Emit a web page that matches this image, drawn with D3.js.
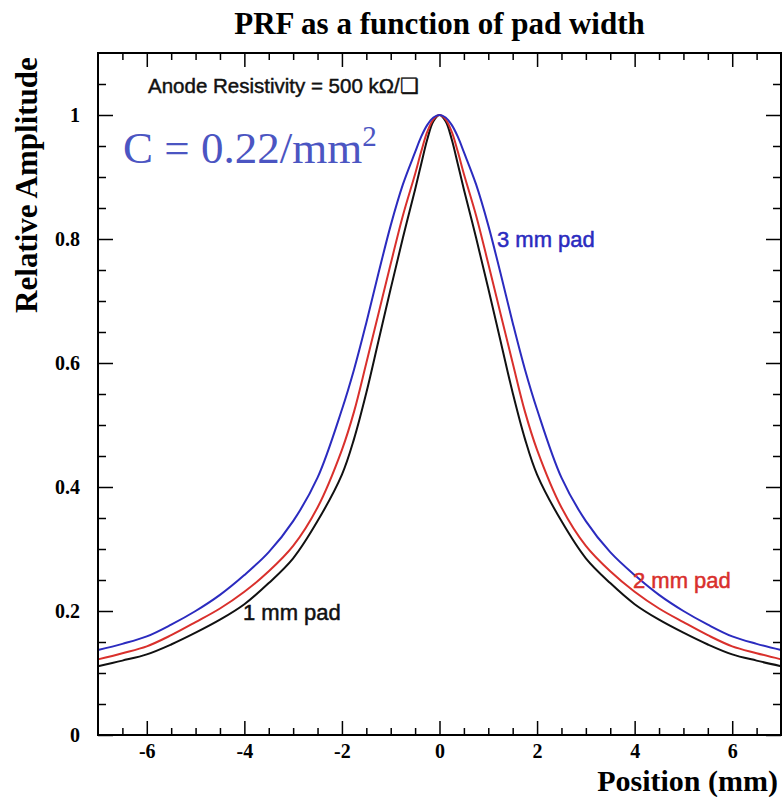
<!DOCTYPE html>
<html>
<head>
<meta charset="utf-8">
<script src="https://cdn.jsdelivr.net/npm/d3@7"></script>
<style>
  html, body { margin: 0; padding: 0; background: #fff; }
  svg { display: block; }
</style>
</head>
<body>
<svg id="chart" width="782" height="797"></svg>
<script>
// ---------- data ----------
const positions = [-7,-6.5,-6,-5.5,-5,-4.5,-4,-3.5,-3,-2.5,-2,-1.75,-1.5,-1.25,-1,-0.75,-0.5,-0.375,-0.25,-0.125,0,
                   0.125,0.25,0.375,0.5,0.75,1,1.25,1.5,1.75,2,2.5,3,3.5,4,4.5,5,5.5,6,6.5,7];
const pad3mm = [0.137,0.147,0.159,0.178,0.200,0.226,0.258,0.295,0.345,0.415,0.525,0.590,0.665,0.745,0.822,0.888,0.940,0.965,0.984,0.996,1.000,
                0.996,0.984,0.965,0.940,0.888,0.822,0.745,0.665,0.590,0.525,0.415,0.345,0.295,0.258,0.226,0.200,0.178,0.159,0.147,0.137];
const pad2mm = [0.122,0.132,0.143,0.161,0.182,0.204,0.231,0.264,0.305,0.367,0.460,0.522,0.600,0.680,0.760,0.838,0.905,0.941,0.973,0.993,1.000,
                0.993,0.973,0.941,0.905,0.838,0.760,0.680,0.600,0.522,0.460,0.367,0.305,0.264,0.231,0.204,0.182,0.161,0.143,0.132,0.122];
const pad1mm = [0.111,0.120,0.130,0.146,0.165,0.186,0.211,0.245,0.285,0.345,0.420,0.478,0.552,0.636,0.720,0.802,0.880,0.921,0.961,0.990,1.000,
                0.990,0.961,0.921,0.880,0.802,0.720,0.636,0.552,0.478,0.420,0.345,0.285,0.245,0.211,0.186,0.165,0.146,0.130,0.120,0.111];

const seriesNames = ["1 mm pad", "2 mm pad", "3 mm pad"];
const seriesColors = ["#111111", "#d9302c", "#2b2bbf"];

const xMajorTicks = [-6,-4,-2,0,2,4,6];
const xTickLabels = ["-6","-4","-2","0","2","4","6"];
const xMinorTicks = [-6.5,-5.5,-5,-4.5,-3.5,-3,-2.5,-1.5,-1,-0.5,0.5,1,1.5,2.5,3,3.5,4.5,5,5.5,6.5];
const yMajorTicks = [0,0.2,0.4,0.6,0.8,1];
const yTickLabels = ["0","0.2","0.4","0.6","0.8","1"];
const yMinorTicks = [0.05,0.1,0.15,0.25,0.3,0.35,0.45,0.5,0.55,0.65,0.7,0.75,0.85,0.9,0.95,1.05];

// ---------- layout ----------
const L = 98, R = 781, T = 53, B = 735;
const svg = d3.select("#chart");
const x = d3.scaleLinear().domain([-7, 7]).range([L, R]);
const y = d3.scaleLinear().domain([0, 1.1]).range([B, T]);

const serif = "'Liberation Serif','Times New Roman',Times,serif";
const sans = "'Liberation Sans',Arial,Helvetica,sans-serif";

function styleAxis(g) {
  g.select(".domain").remove();
  g.selectAll(".tick line").attr("stroke", "#000").attr("stroke-width", 1.5);
  g.selectAll(".tick text").attr("font-family", serif).attr("font-weight", "bold")
   .attr("font-size", 20).attr("fill", "#000");
}
const fmtX = d => xTickLabels[xMajorTicks.indexOf(d)];
const fmtY = d => yTickLabels[yMajorTicks.indexOf(d)];

svg.append("g").attr("transform", `translate(0,${B})`)
  .call(d3.axisBottom(x).tickValues(xMajorTicks).tickSize(-14).tickPadding(9).tickFormat(fmtX))
  .call(styleAxis);
svg.append("g").attr("transform", `translate(0,${B})`)
  .call(d3.axisBottom(x).tickValues(xMinorTicks).tickSize(-7).tickFormat(""))
  .call(styleAxis);
svg.append("g").attr("transform", `translate(0,${T})`)
  .call(d3.axisTop(x).tickValues(xMajorTicks).tickSize(-14).tickFormat(""))
  .call(styleAxis);
svg.append("g").attr("transform", `translate(0,${T})`)
  .call(d3.axisTop(x).tickValues(xMinorTicks).tickSize(-7).tickFormat(""))
  .call(styleAxis);

svg.append("g").attr("transform", `translate(${L},0)`)
  .call(d3.axisLeft(y).tickValues(yMajorTicks).tickSize(-15).tickPadding(18).tickFormat(fmtY))
  .call(styleAxis);
svg.append("g").attr("transform", `translate(${L},0)`)
  .call(d3.axisLeft(y).tickValues(yMinorTicks).tickSize(-8).tickFormat(""))
  .call(styleAxis);
svg.append("g").attr("transform", `translate(${R},0)`)
  .call(d3.axisRight(y).tickValues(yMajorTicks).tickSize(-15).tickFormat(""))
  .call(styleAxis);
svg.append("g").attr("transform", `translate(${R},0)`)
  .call(d3.axisRight(y).tickValues(yMinorTicks).tickSize(-8).tickFormat(""))
  .call(styleAxis);

// curves
const line = d3.line().x(d => x(d[0])).y(d => y(d[1])).curve(d3.curveCatmullRom.alpha(0.5));
[pad1mm, pad2mm, pad3mm].forEach((vals, i) => {
  svg.append("path")
    .datum(positions.map((p, j) => [p, vals[j]]))
    .attr("fill", "none")
    .attr("stroke", seriesColors[i])
    .attr("stroke-width", 2)
    .attr("d", line);
});

// frame
svg.append("rect").attr("x", L).attr("y", T).attr("width", R - L).attr("height", B - T)
  .attr("fill", "none").attr("stroke", "#000").attr("stroke-width", 2);

// titles
svg.append("text").attr("x", (L + R) / 2).attr("y", 34).attr("text-anchor", "middle")
  .attr("font-family", serif).attr("font-weight", "bold").attr("font-size", 31)
  .text("PRF as a function of pad width");
svg.append("text").attr("transform", "translate(37,185) rotate(-90)").attr("text-anchor", "middle")
  .attr("font-family", serif).attr("font-weight", "bold").attr("font-size", 31)
  .text("Relative Amplitude");
svg.append("text").attr("x", 778).attr("y", 791).attr("text-anchor", "end")
  .attr("font-family", serif).attr("font-weight", "bold").attr("font-size", 30)
  .text("Position (mm)");

// annotations
svg.append("text").attr("x", 148).attr("y", 93)
  .attr("font-family", sans).attr("font-size", 20.5).attr("fill", "#111")
  .attr("stroke", "#111").attr("stroke-width", 0.45)
  .text("Anode Resistivity = 500 k\u03A9/\u274F");

const cText = svg.append("text").attr("x", 123).attr("y", 163)
  .attr("font-family", serif).attr("font-size", 45).attr("fill", "#4b55c2");
cText.append("tspan").text("C = 0.22/mm");
cText.append("tspan").attr("dy", -17).attr("font-size", 29).text("2");

const labelPos = [[243, 620], [633, 588], [497, 247]];
seriesNames.forEach((name, i) => {
  svg.append("text").attr("x", labelPos[i][0]).attr("y", labelPos[i][1])
    .attr("font-family", sans).attr("font-size", 22).attr("fill", seriesColors[i])
    .attr("stroke", seriesColors[i]).attr("stroke-width", 0.5)
    .text(name);
});
</script>
</body>
</html>
